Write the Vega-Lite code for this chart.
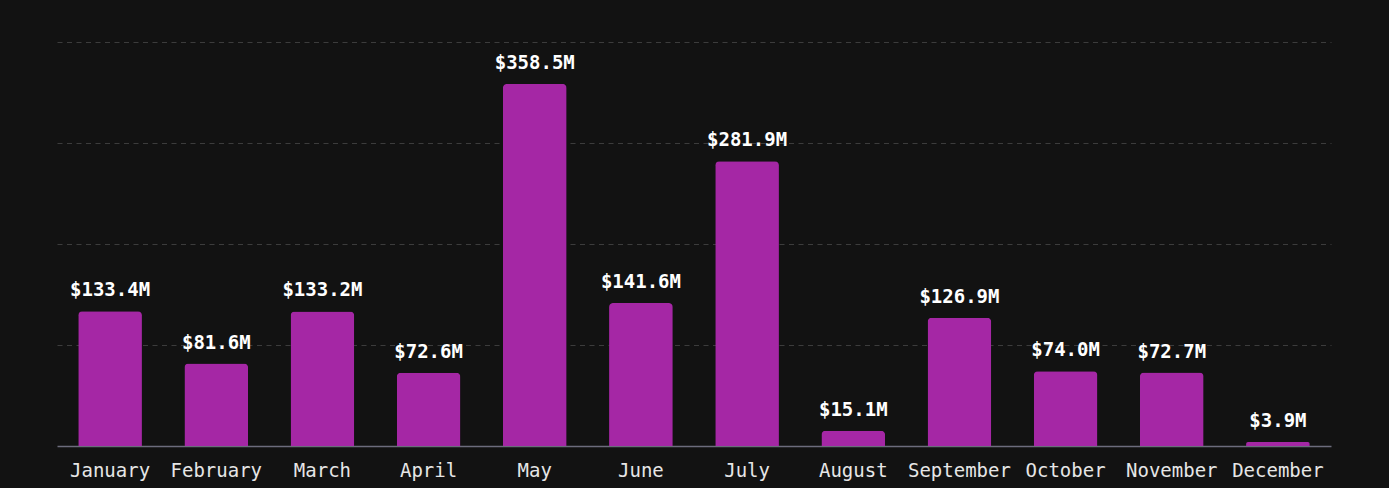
{
  "$schema": "https://vega.github.io/schema/vega-lite/v6.json",
  "width": 1274,
  "height": 404,
  "autosize": "none",
  "padding": {"left": 57, "top": 42, "right": 58, "bottom": 42},
  "background": "#121212",
  "config": {"view": {"stroke": null}, "font": "DejaVu Sans Mono"},
  "data": {"values": [
    {"month": "January", "value": 133.4},
    {"month": "February", "value": 81.6},
    {"month": "March", "value": 133.2},
    {"month": "April", "value": 72.6},
    {"month": "May", "value": 358.5},
    {"month": "June", "value": 141.6},
    {"month": "July", "value": 281.9},
    {"month": "August", "value": 15.1},
    {"month": "September", "value": 126.9},
    {"month": "October", "value": 74.0},
    {"month": "November", "value": 72.7},
    {"month": "December", "value": 3.9}
  ]},
  "transform": [{"calculate": "'$' + format(datum.value, '.1f') + 'M'", "as": "label"}],
  "encoding": {
    "x": {"field": "month", "type": "nominal", "sort": null,
      "scale": {"paddingInner": 0.4, "paddingOuter": 0.2},
      "axis": {"title": null, "labelAngle": 0, "ticks": false, "labelPadding": 15,
        "labelFontSize": 19, "labelColor": "#e6e6e6", "labelFont": "DejaVu Sans Mono",
        "domainColor": "#6c6c7c", "domainWidth": 1.5}},
    "y": {"field": "value", "type": "quantitative",
      "scale": {"domain": [0, 400]},
      "axis": {"title": null, "labels": false, "ticks": false, "domain": false,
        "values": [100, 200, 300, 400], "gridColor": "#3c3c3c", "gridDash": [5, 4.5], "gridWidth": 1}}
  },
  "layer": [
    {"mark": {"type": "bar", "color": "#a527a5", "cornerRadiusTopLeft": 4, "cornerRadiusTopRight": 4}},
    {"mark": {"type": "text", "dy": -15, "baseline": "alphabetic", "fontSize": 19, "fontWeight": "bold", "color": "#ffffff", "font": "DejaVu Sans Mono"},
      "encoding": {"text": {"field": "label"}}}
  ]
}
